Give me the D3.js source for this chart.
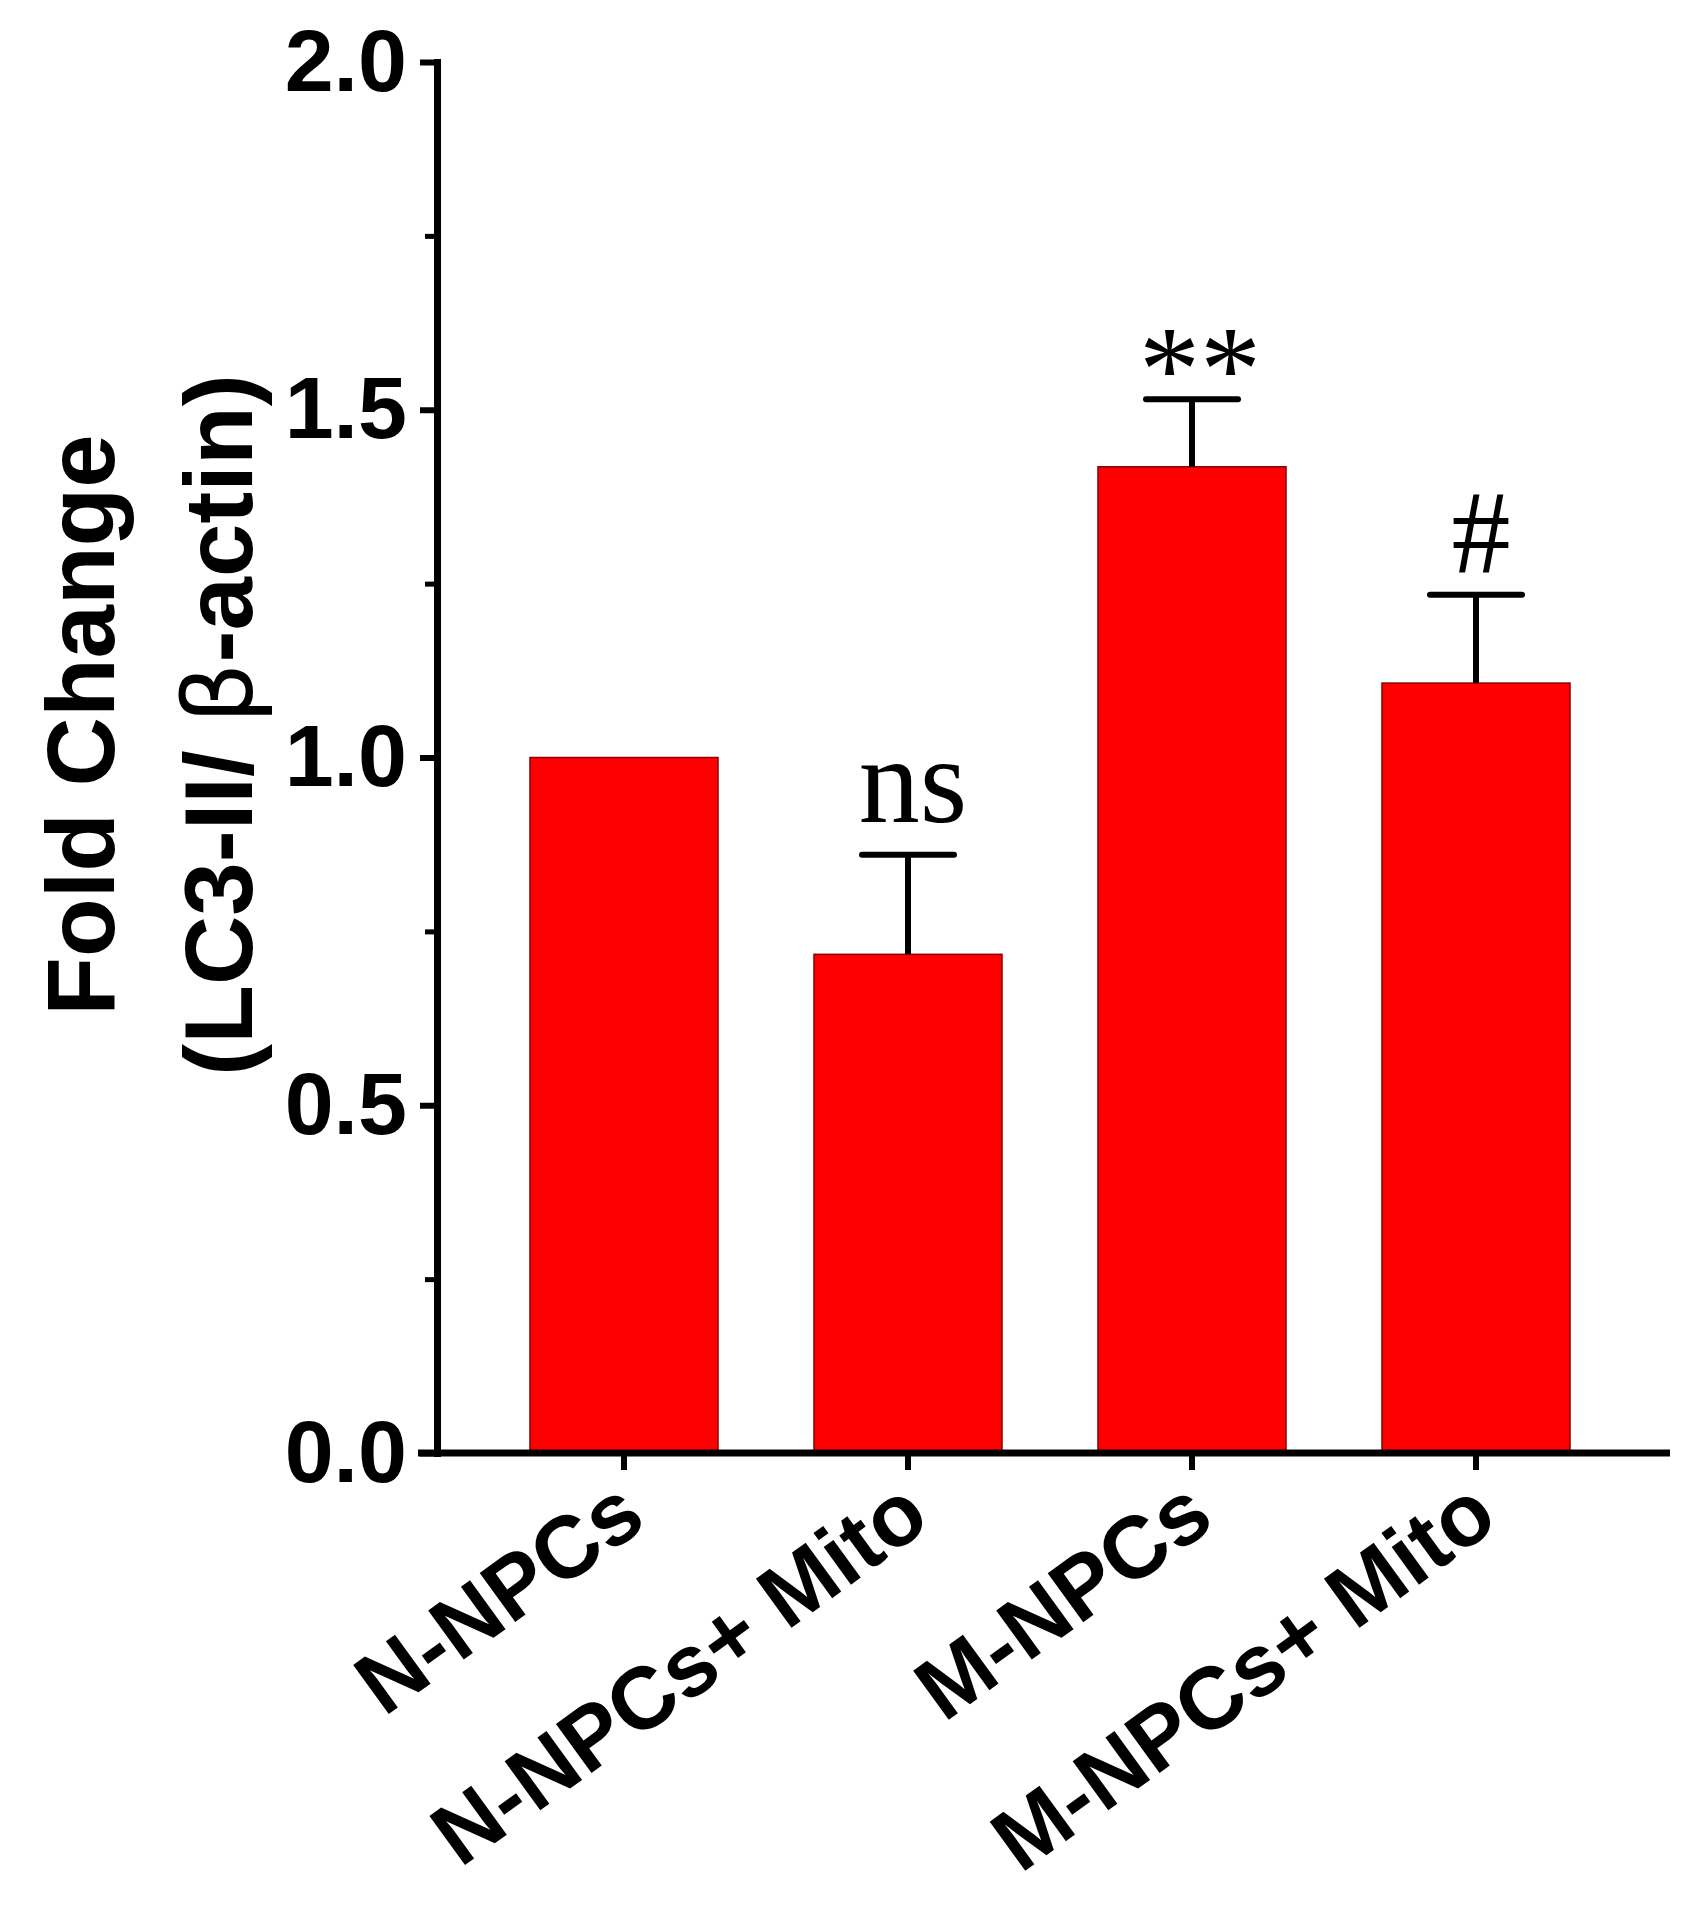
<!DOCTYPE html>
<html>
<head>
<meta charset="utf-8">
<script src="https://cdn.jsdelivr.net/npm/d3@7/dist/d3.min.js"></script>
<style>
  body { margin: 0; background: #fff; }
  svg text { font-family: "Liberation Sans", Arial, sans-serif; font-weight: bold; fill: #000; }
  svg text.annot { font-family: "Liberation Serif", "Times New Roman", serif; font-weight: normal; }
</style>
</head>
<body>
<div id="viz"></div>
<script>
// data
var groups = ["N-NPCs", "N-NPCs+ Mito", "M-NPCs", "M-NPCs+ Mito"];
var means = [1.0, 0.717, 1.418, 1.107];
var errors = [0, 0.143, 0.097, 0.127];
var marks = ["", "ns", "**", "#"];
var yTicks = [0, 0.5, 1.0, 1.5, 2.0];
var yMinorTicks = [0.25, 0.75, 1.25, 1.75];

var width = 1689, height = 1920;
var axisX = 437, axisY = 1453;

// how each significance mark sits above its cap
var markStyle = {
  "ns": { size: 122, dx: 5, gap: 33 },
  "**": { size: 122, dx: 8, gap: -11 },
  "#": { size: 118, dx: 5, gap: 23 }
};

var data = groups.map(function (g, i) {
  return { group: g, mean: means[i], err: errors[i], mark: marks[i] };
});

var svg = d3.select("#viz").append("svg")
  .attr("width", width)
  .attr("height", height);

var yScale = d3.scaleLinear().domain([0, 2]).range([axisY, 62]);
var xScale = d3.scaleBand().domain(groups)
  .range([482, 1618])
  .paddingInner(0.338)
  .paddingOuter(0.169);

// bars
svg.selectAll(".bar")
  .data(data)
  .enter().append("rect")
  .attr("class", "bar")
  .attr("x", function (d) { return xScale(d.group); })
  .attr("y", function (d) { return yScale(d.mean); })
  .attr("width", xScale.bandwidth())
  .attr("height", function (d) { return yScale(0) - yScale(d.mean); })
  .style("fill", "#ff0000")
  .style("stroke", "#8a0000")
  .style("stroke-width", 1.5);

// error bars (upper only)
var withErr = data.filter(function (d) { return d.err > 0; });
var cx = function (d) { return xScale(d.group) + xScale.bandwidth() / 2; };

svg.selectAll(".err")
  .data(withErr)
  .enter().append("line")
  .attr("class", "err")
  .attr("x1", cx).attr("x2", cx)
  .attr("y1", function (d) { return yScale(d.mean); })
  .attr("y2", function (d) { return yScale(d.mean + d.err); })
  .style("stroke", "#000")
  .style("stroke-width", 6);

svg.selectAll(".cap")
  .data(withErr)
  .enter().append("line")
  .attr("class", "cap")
  .attr("x1", function (d) { return cx(d) - 46; })
  .attr("x2", function (d) { return cx(d) + 46; })
  .attr("y1", function (d) { return yScale(d.mean + d.err); })
  .attr("y2", function (d) { return yScale(d.mean + d.err); })
  .style("stroke", "#000")
  .style("stroke-width", 6)
  .style("stroke-linecap", "round");

// significance marks
svg.selectAll(".annot")
  .data(withErr.filter(function (d) { return d.mark; }))
  .enter().append("text")
  .attr("class", "annot")
  .attr("x", function (d) { return cx(d) + markStyle[d.mark].dx; })
  .attr("y", function (d) { return yScale(d.mean + d.err) - markStyle[d.mark].gap; })
  .attr("text-anchor", "middle")
  .style("font-size", function (d) { return markStyle[d.mark].size + "px"; })
  .text(function (d) { return d.mark; });

// y axis
var yAxis = d3.axisLeft(yScale)
  .tickValues(yTicks)
  .tickSize(17)
  .tickSizeOuter(0)
  .tickPadding(13)
  .tickFormat(d3.format(".1f"));

var gy = svg.append("g")
  .attr("transform", "translate(" + axisX + ",0)")
  .call(yAxis);
gy.select(".domain").style("stroke-width", 7).style("stroke-linecap", "square");
gy.selectAll(".tick line").style("stroke-width", 6);
gy.selectAll(".tick text")
  .style("font-size", "88px")
  .style("font-family", "'Liberation Sans', Arial, sans-serif")
  .style("font-weight", "bold");

var gyMinor = svg.append("g")
  .attr("transform", "translate(" + axisX + ",0)")
  .call(d3.axisLeft(yScale).tickValues(yMinorTicks).tickSize(12).tickSizeOuter(0).tickFormat(""));
gyMinor.select(".domain").remove();
gyMinor.selectAll(".tick line").style("stroke-width", 5);

// x axis
var gx = svg.append("g")
  .attr("transform", "translate(0," + axisY + ")")
  .call(d3.axisBottom(xScale).tickSize(17).tickSizeOuter(0).tickFormat(""));
gx.select(".domain").remove();
gx.selectAll(".tick line").style("stroke-width", 6);

svg.append("line")
  .attr("x1", axisX - 19).attr("x2", 1670)
  .attr("y1", axisY).attr("y2", axisY)
  .style("stroke", "#000")
  .style("stroke-width", 7);

// rotated category labels
svg.selectAll(".xlabel")
  .data(groups)
  .enter().append("text")
  .attr("class", "xlabel")
  .attr("transform", function (d) {
    return "translate(" + (xScale(d) + xScale.bandwidth() / 2 + 25) + "," + (axisY + 72) + ") rotate(-36)";
  })
  .attr("text-anchor", "end")
  .style("font-size", "88px")
  .text(function (d) { return d; });

// y axis title
svg.append("text")
  .attr("transform", "translate(114,725) rotate(-90)")
  .attr("text-anchor", "middle")
  .style("font-size", "96px")
  .text("Fold Change");

var t2 = svg.append("text")
  .attr("transform", "translate(252,725) rotate(-90)")
  .attr("text-anchor", "middle")
  .style("font-size", "96px");
t2.append("tspan").text("(LC3-II/ ");
t2.append("tspan").style("font-weight", "normal").style("font-family", "'DejaVu Sans', sans-serif").text("β");
t2.append("tspan").text("-actin)");
</script>
</body>
</html>
